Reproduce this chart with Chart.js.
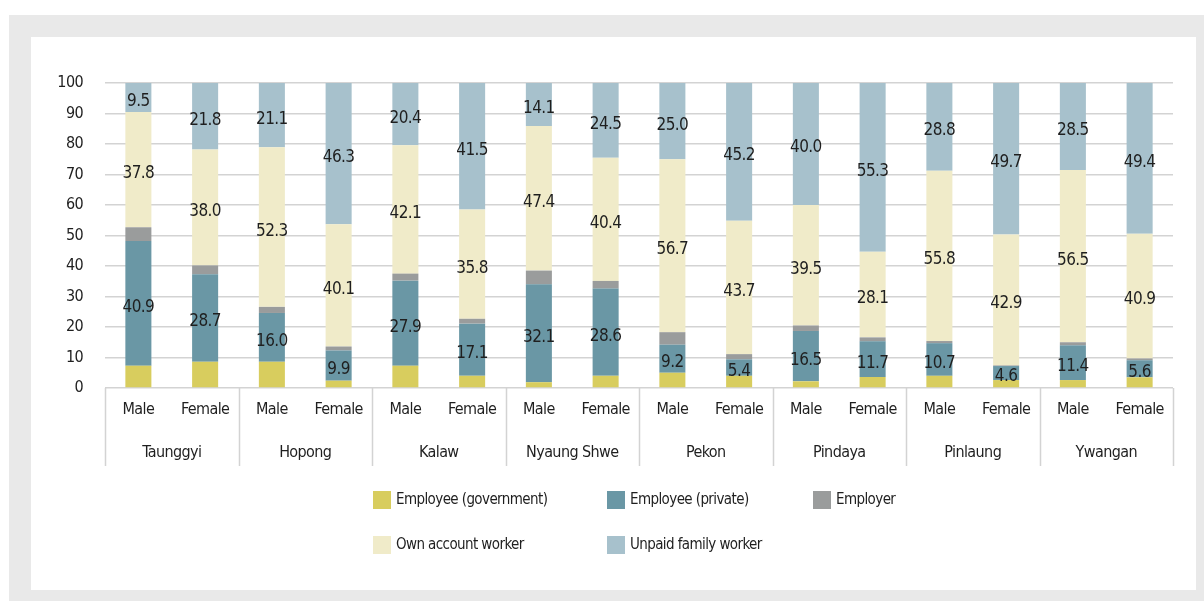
<!DOCTYPE html>
<html>
<head>
<meta charset="utf-8">
<script src="https://cdn.jsdelivr.net/npm/chart.js@4.4.1/dist/chart.umd.min.js"></script>
<style>
  html, body { margin: 0; padding: 0; background: #fff; }
  #frame { position: absolute; left: 9px; top: 15px; width: 1195px; height: 586px; background: #e9e9e9; }
  #panel { position: absolute; left: 31px; top: 37px; width: 1165px; height: 553px; background: #fff; }
  #chart { position: absolute; left: 0; top: 0; }
</style>
</head>
<body>
<div id="frame"></div>
<div id="panel"></div>
<canvas id="chart" width="1204" height="601"></canvas>
<script>
const districts = ["Taunggyi", "Hopong", "Kalaw", "Nyaung Shwe", "Pekon", "Pindaya", "Pinlaung", "Ywangan"];
const sexes = ["Male", "Female"];

// values per bar, in order Taunggyi M/F, Hopong M/F, ...
const govEmployee  = [7.3, 8.6, 8.6, 2.4, 7.3, 4.0, 1.9, 4.0, 5.0, 4.0, 2.2, 3.6, 4.0, 2.6, 2.6, 3.5];
const privEmployee = [40.9, 28.7, 16.0, 9.9, 27.9, 17.1, 32.1, 28.6, 9.2, 5.4, 16.5, 11.7, 10.7, 4.6, 11.4, 5.6];
const employer     = [4.5, 2.9, 2.0, 1.3, 2.3, 1.6, 4.5, 2.5, 4.1, 1.7, 1.8, 1.3, 0.7, 0.2, 1.0, 0.6];
const ownAccount   = [37.8, 38.0, 52.3, 40.1, 42.1, 35.8, 47.4, 40.4, 56.7, 43.7, 39.5, 28.1, 55.8, 42.9, 56.5, 40.9];
const unpaidFamily = [9.5, 21.8, 21.1, 46.3, 20.4, 41.5, 14.1, 24.5, 25.0, 45.2, 40.0, 55.3, 28.8, 49.7, 28.5, 49.4];

const yTicks = [0, 10, 20, 30, 40, 50, 60, 70, 80, 90, 100];

const FONT = "'Liberation Sans Narrow', 'DejaVu Sans Condensed', 'Arial Narrow', sans-serif";
const TEXT = "#1f1f1f";
const GRID = "#d3d3d3";

const labels = districts.flatMap(() => sexes);

// tighter letters, closer to the narrow face of the original
const narrowText = {
    id: "narrowText",
    beforeDraw(chart) {
        chart.ctx.letterSpacing = "-0.6px";
    }
};

// draws the value inside private / own account / unpaid segments
const valueLabels = {
    id: "valueLabels",
    afterDatasetsDraw(chart) {
        const ctx = chart.ctx;
        ctx.save();
        ctx.font = "17px " + FONT;
        ctx.fillStyle = TEXT;
        ctx.textAlign = "center";
        ctx.textBaseline = "middle";
        chart.data.datasets.forEach((ds, i) => {
            if (!ds.showValues) return;
            chart.getDatasetMeta(i).data.forEach((bar, j) => {
                const p = bar.getProps(["x", "y", "base"], true);
                ctx.fillText(ds.data[j].toFixed(1), p.x, (p.y + p.base) / 2 + 4);
            });
        });
        ctx.restore();
    }
};

// district names under the Male/Female ticks, with separators
const groupAxis = {
    id: "groupAxis",
    afterDraw(chart) {
        const ctx = chart.ctx;
        const x = chart.scales.x;
        const cw = (x.right - x.left) / labels.length;
        const top = chart.chartArea.bottom;
        ctx.save();
        ctx.strokeStyle = GRID;
        ctx.lineWidth = 1.5;
        for (let g = 0; g <= districts.length; g++) {
            const px = Math.round(x.left + g * 2 * cw) + 0.5;
            ctx.beginPath();
            ctx.moveTo(px, top);
            ctx.lineTo(px, top + 78);
            ctx.stroke();
        }
        ctx.font = "16px " + FONT;
        ctx.fillStyle = TEXT;
        ctx.textAlign = "center";
        ctx.textBaseline = "middle";
        districts.forEach((d, g) => {
            const cx = x.left + (g * 2 + 1) * cw;
            ctx.fillText(d, cx, top + 65);
        });
        ctx.restore();
    }
};

// legend laid out in 3 columns, 2 rows
const gridLegend = {
    id: "gridLegend",
    afterDraw(chart) {
        const ctx = chart.ctx;
        const cols = [373, 607, 813];
        const rows = [500, 545];
        ctx.save();
        ctx.font = "15px " + FONT;
        ctx.textAlign = "left";
        ctx.textBaseline = "middle";
        chart.data.datasets.forEach((ds, i) => {
            const bx = cols[i % 3];
            const by = rows[Math.floor(i / 3)];
            ctx.fillStyle = ds.backgroundColor;
            ctx.fillRect(bx, by - 9, 18, 18);
            ctx.fillStyle = TEXT;
            ctx.fillText(ds.label, bx + 23, by);
        });
        ctx.restore();
    }
};

new Chart(document.getElementById("chart"), {
    type: "bar",
    data: {
        labels: labels,
        datasets: [
            { label: "Employee (government)", data: govEmployee, backgroundColor: "#d8cd5e" },
            { label: "Employee (private)", data: privEmployee, backgroundColor: "#6a97a5", showValues: true },
            { label: "Employer", data: employer, backgroundColor: "#9a9c9c" },
            { label: "Own account worker", data: ownAccount, backgroundColor: "#f0ebc9", showValues: true },
            { label: "Unpaid family worker", data: unpaidFamily, backgroundColor: "#a7c1cc", showValues: true }
        ]
    },
    options: {
        responsive: false,
        animation: false,
        layout: { padding: { left: 40, right: 31, top: 83, bottom: 0 } },
        datasets: {
            bar: { barPercentage: 0.39, categoryPercentage: 1.0, borderWidth: 0 }
        },
        scales: {
            x: {
                stacked: true,
                grid: { display: false, drawTicks: false },
                border: { display: false },
                ticks: { font: { family: FONT, size: 16 }, color: TEXT, padding: 12, maxRotation: 0, autoSkip: false },
                afterFit(scale) { scale.height = 213; }
            },
            y: {
                stacked: true,
                min: 0,
                max: 100,
                afterBuildTicks(scale) { scale.ticks = yTicks.map(v => ({ value: v })); },
                grid: { color: GRID, lineWidth: 1.5, drawTicks: false },
                border: { display: false },
                ticks: { font: { family: FONT, size: 16 }, color: TEXT, padding: 22 },
                afterFit(scale) { scale.width = 65; }
            }
        },
        plugins: {
            legend: { display: false },
            tooltip: { enabled: false }
        }
    },
    plugins: [narrowText, valueLabels, groupAxis, gridLegend]
});
</script>
</body>
</html>
